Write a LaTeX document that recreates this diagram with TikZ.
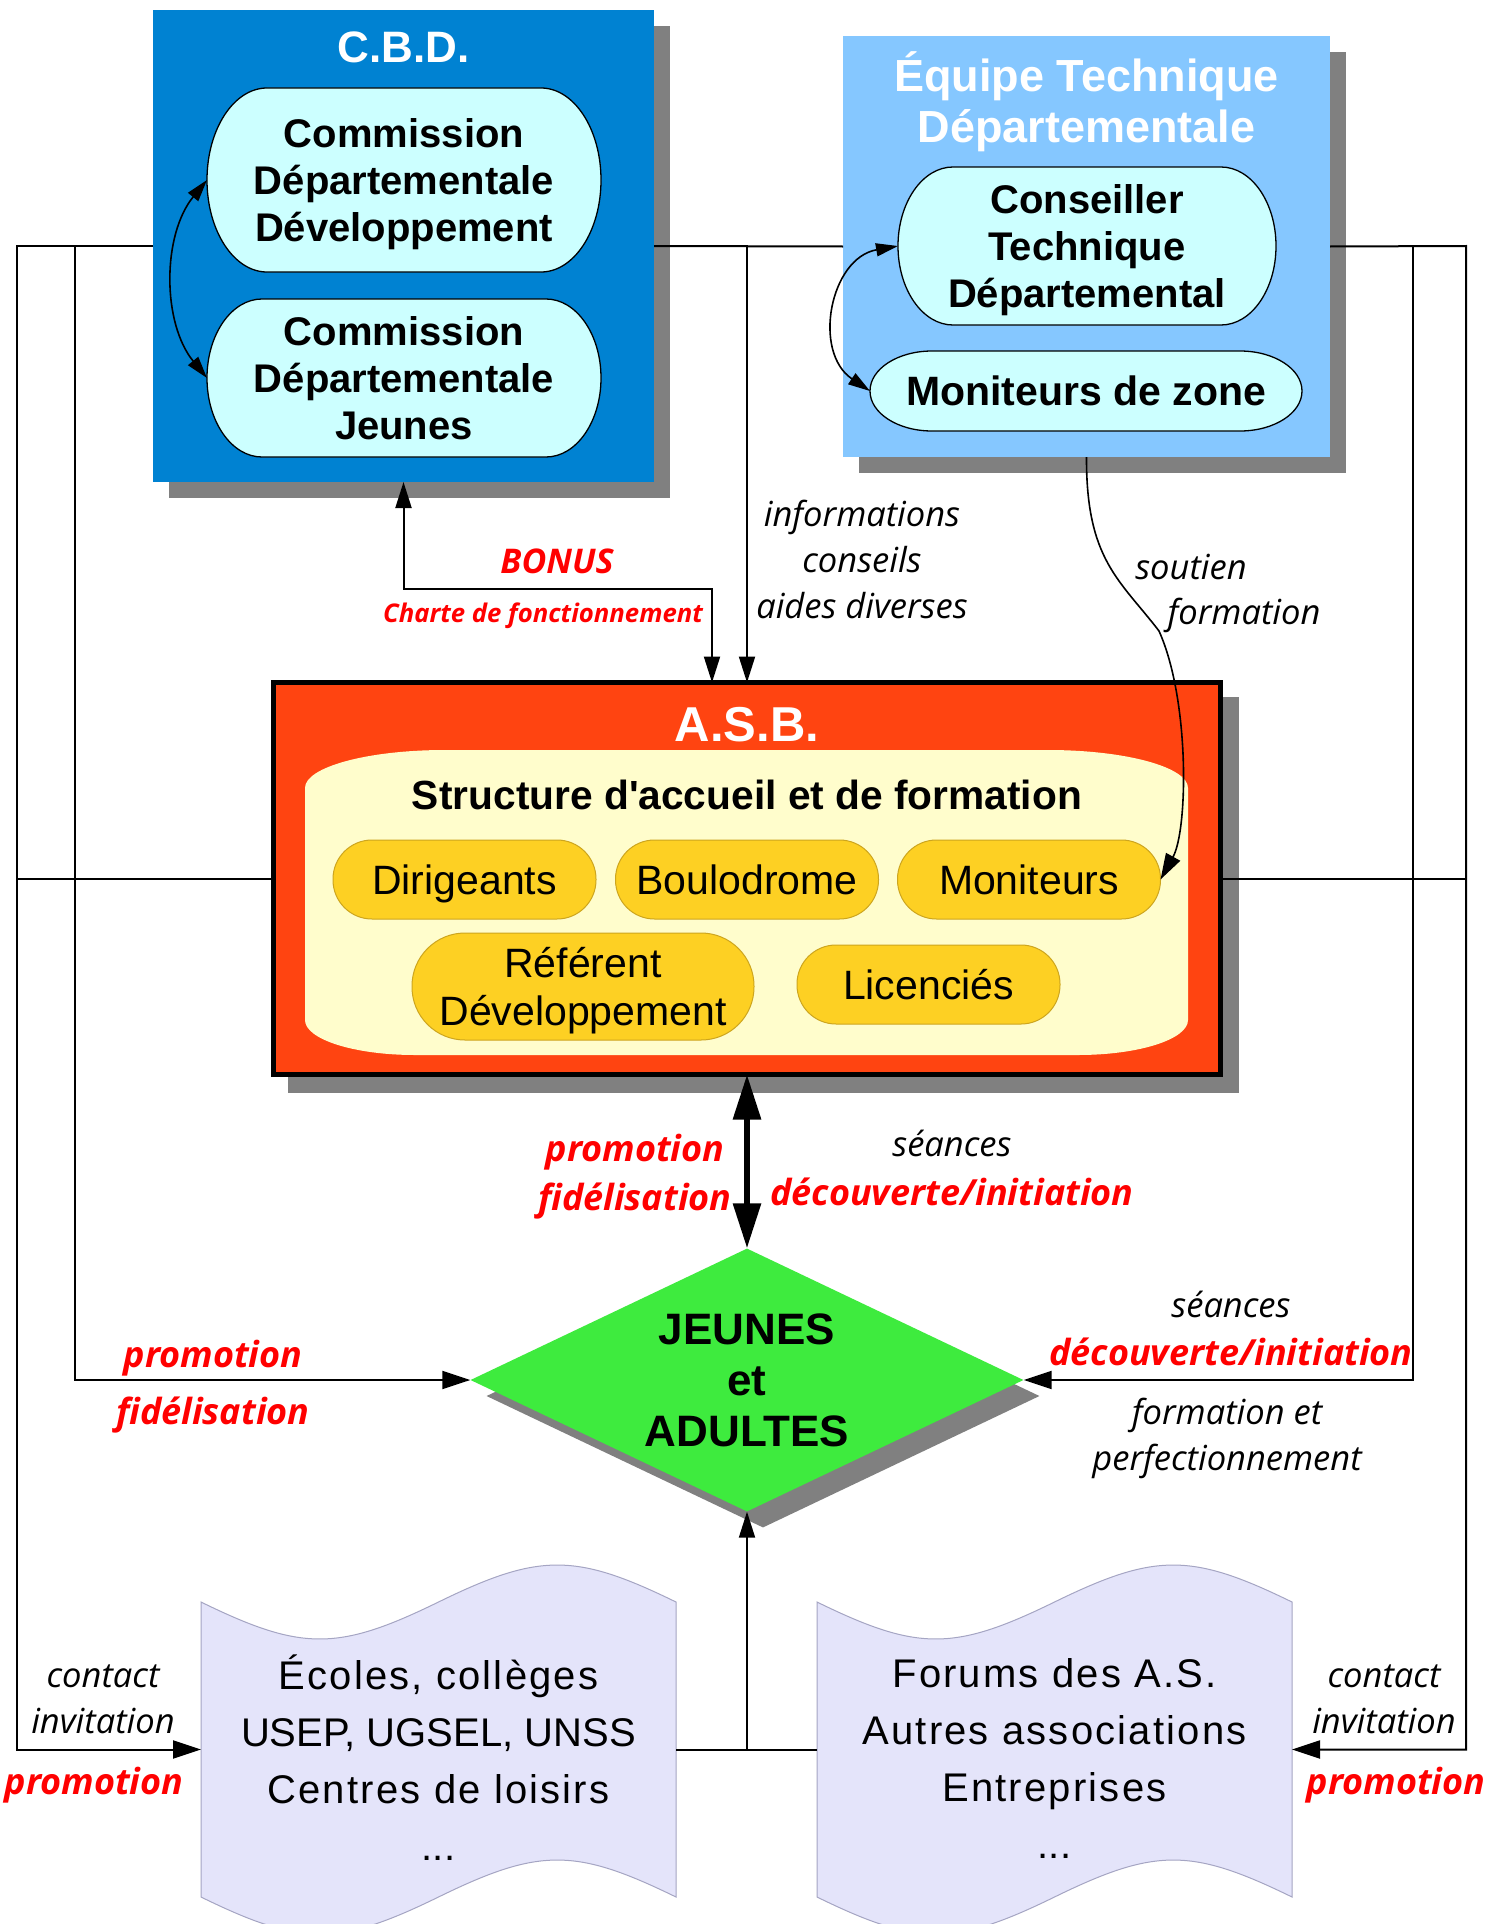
\documentclass[tikz,border=0pt]{standalone}
\usepackage{fontspec}
\setmainfont{Liberation Sans}
\newfontfamily\osans{Open Sans}
\newfontfamily\docfont[LetterSpace=5.5]{Liberation Sans}
\usetikzlibrary{arrows.meta,shapes.geometric}
\definecolor{cbdblue}{RGB}{0,130,210}
\definecolor{etdblue}{RGB}{133,199,255}
\definecolor{cyanf}{RGB}{204,255,255}
\definecolor{asbred}{RGB}{255,68,17}
\definecolor{lyellow}{RGB}{255,253,204}
\definecolor{gold}{RGB}{253,208,35}
\definecolor{golddark}{RGB}{205,165,30}
\definecolor{jgreen}{RGB}{62,235,62}
\definecolor{lav}{RGB}{228,228,250}
\definecolor{lavdark}{RGB}{165,165,195}
\definecolor{shadowgray}{RGB}{128,128,128}
\definecolor{lblred}{RGB}{255,0,0}
\newcommand\mycapsule[6]{\filldraw[capsule] (#1+#5,#2) -- (#3-#5,#2) arc[start angle=-90,end angle=90,x radius=#5,y radius=#6] -- (#1+#5,#4) arc[start angle=90,end angle=270,x radius=#5,y radius=#6] -- cycle;}
\tikzset{
  capsule/.style={fill=cyanf,draw=black,line width=1.3pt},
  boxn/.style={rectangle,inner sep=0pt,outer sep=0pt},
  titlef/.style={text=white,inner sep=0pt,align=center},
  ctext/.style={rectangle,inner sep=0pt,outer sep=0pt,align=center,text depth=0pt,font=\bfseries\fontsize{40}{47}\selectfont},
  pill/.style={rectangle,rounded corners=39pt,fill=gold,draw=golddark,line width=1pt,inner sep=0pt,outer sep=0pt,minimum width=263pt,minimum height=79pt,align=center,text depth=0pt,font=\fontsize{41}{48}\selectfont},
  doc/.style={fill=lav,draw=lavdark,line width=1pt},
  doctext/.style={inner sep=0pt,align=center,font=\docfont\fontsize{40}{57}\selectfont},
  con/.style={draw=black,line width=2pt},
  tipA/.style={-{Triangle[length=26pt,width=16pt]}},
  tipB/.style={-{Triangle[length=28pt,width=18pt]}},
  dblA/.style={{Triangle[length=26pt,width=16pt]}-{Triangle[length=26pt,width=16pt]}},
  dblS/.style={{Triangle[length=22pt,width=13pt]}-{Triangle[length=22pt,width=13pt]}},
  dblBig/.style={{Triangle[length=45pt,width=27pt]}-{Triangle[length=45pt,width=27pt]}},
  lblk/.style={font=\osans\itshape\fontsize{34.5}{46}\selectfont,inner sep=0pt,align=center},
  lred/.style={font=\osans\bfseries\itshape\fontsize{36}{49}\selectfont,text=lblred,inner sep=0pt,align=center},
}
\begin{document}
\begin{tikzpicture}[x=1pt,y=-1pt]
\useasboundingbox (0,0) rectangle (1504,1924);
\fill[white] (0,0) rectangle (1504,1924);
\clip (0,0) rectangle (1504,1924);

% shadows
\fill[shadowgray] (169,26) rectangle (670,498);
\fill[shadowgray] (859,52) rectangle (1346,473);
\fill[shadowgray] (288,697) rectangle (1239,1093);

% main boxes
\node[boxn,fill=cbdblue,minimum width=501pt,minimum height=472pt] (cbd) at (403.5,246) {};
\node[boxn,fill=etdblue,minimum width=487pt,minimum height=421pt] (etd) at (1086.5,246.5) {};
\node[boxn,fill=asbred,draw=black,line width=5pt,minimum width=947pt,minimum height=392pt] (asb) at (747,878.5) {};

% titles
\node[titlef,font=\bfseries\fontsize{44}{51}\selectfont] (cbdtitle) at (403.5,47) {C.B.D.};
\node[titlef,font=\bfseries\fontsize{45}{51}\selectfont] (etdtitle) at (1086.5,102) {Équipe Technique\\Départementale};
\node[titlef,font=\bfseries\fontsize{49}{51}\selectfont] (asbtitle) at (747,724.5) {A.S.B.};

% C.B.D. commissions
\mycapsule{207}{88}{601}{272}{60}{92}
\node[ctext,minimum width=394pt,minimum height=184pt] (cdd) at (404,180) {Commission\\Départementale\\Développement};
\mycapsule{207}{299}{601}{457}{55}{79}
\node[ctext,minimum width=394pt,minimum height=158pt] (cdj) at (404,378) {Commission\\Départementale\\Jeunes};

% E.T.D.
\mycapsule{898}{167}{1276}{325}{55}{79}
\node[ctext,minimum width=378pt,minimum height=158pt] (ctd) at (1087,246) {Conseiller\\Technique\\Départemental};
\mycapsule{870}{351}{1302}{431}{62}{40}
\node[ctext,minimum width=432pt,minimum height=80pt,font=\bfseries\fontsize{41}{47}\selectfont] (mdz) at (1086,391) {Moniteurs de zone};

% A.S.B. inner structure
\fill[lyellow] (445,750) -- (1048,750) arc[start angle=-90,end angle=0,x radius=140,y radius=38] -- (1188,1020) arc[start angle=0,end angle=90,x radius=110,y radius=35] -- (415,1055) arc[start angle=90,end angle=180,x radius=110,y radius=35] -- (305,788) arc[start angle=180,end angle=270,x radius=140,y radius=38] -- cycle;
\node[inner sep=0pt,font=\bfseries\fontsize{40.7}{47}\selectfont] (structure) at (747,795) {Structure d\textquotesingle accueil et de formation};
\node[pill] (dirigeants) at (464.5,879.5) {Dirigeants};
\node[pill] (boulodrome) at (747,879.5) {Boulodrome};
\node[pill] (moniteurs) at (1029,879.5) {Moniteurs};
\node[pill,minimum width=342pt,minimum height=107pt,rounded corners=53pt] (referent) at (583,986.5) {Référent\\Développement};
\node[pill] (licencies) at (928.5,984.5) {Licenciés};

% diamond
\node[diamond,aspect=2.1,fill=shadowgray,inner sep=0pt,minimum width=553pt,minimum height=263pt] (jshadow) at (763,1396) {};
\node[diamond,aspect=2.1,fill=jgreen,inner sep=0pt,minimum width=553pt,minimum height=263pt,align=center,font=\bfseries\fontsize{44}{51}\selectfont] (jeunes) at (747,1380) {JEUNES\\et\\ADULTES};

% documents
\filldraw[doc] (201,1602) .. controls (301.8,1651.3) and (337.7,1651.3) .. (438.5,1602) .. controls (539.3,1552.7) and (575.2,1552.7) .. (676,1602) -- (676,1897) .. controls (575.2,1847.7) and (539.3,1847.7) .. (438.5,1897) .. controls (337.7,1946.3) and (301.8,1946.3) .. (201,1897) -- cycle;
\filldraw[doc] (817,1602) .. controls (917.8,1651.3) and (953.7,1651.3) .. (1054.5,1602) .. controls (1155.3,1552.7) and (1191.2,1552.7) .. (1292,1602) -- (1292,1897) .. controls (1191.2,1847.7) and (1155.3,1847.7) .. (1054.5,1897) .. controls (953.7,1946.3) and (917.8,1946.3) .. (817,1897) -- cycle;
\node[boxn,minimum width=475pt,minimum height=295pt] (ecoles) at (438.5,1749.5) {};
\node[boxn,minimum width=475pt,minimum height=295pt] (forums) at (1054.5,1749.5) {};
\node[doctext] (ecolestxt) at (438.5,1758) {Écoles, collèges\\{\rmfamily USEP, UGSEL, UNSS}\\Centres de loisirs\\{\rmfamily ...}};
\node[doctext] (forumstxt) at (1054.5,1758) {Forums des A.S.\\Autres associations\\Entreprises\\{\rmfamily ...}};

% connectors
\coordinate (lo) at (17,246);
\coordinate (li) at (75,246);
\coordinate (ro) at (1466,246);
\coordinate (ri) at (1413,246);
\coordinate (bj) at (712,589);
\draw[con,tipB] (cbd.west) -- (lo) -- (lo |- ecoles.west) -- (ecoles.west);
\draw[con,tipB] (li) -- (li |- jeunes.west) -- (jeunes.west);
\draw[con] (lo |- asb.west) -- (asb.west);
\draw[con,tipB] (etd.east) -- (ro) -- (ro |- forums.east) -- (forums.east);
\draw[con,tipB] (ri) -- (ri |- jeunes.east) -- (jeunes.east);
\draw[con] (asb.east) -- (ro |- asb.east);
\draw[con] (cbd.east) -- (etd.west);
\draw[con,tipA] (cbd.east -| asb.north) -- (asb.north);
\draw[con,dblA] (cbd.south) |- (bj) -- (bj |- asb.north);
\draw[draw=black,line width=1.6pt,tipA] (etd.south) .. controls (1086,560) and (1120,580) .. (1159,631) .. controls (1190,700) and (1188,830) .. (moniteurs.east);
\draw[draw=black,line width=6pt,dblBig] (asb.south) -- (jeunes.north);
\draw[con] (ecoles.east) -- (forums.west);
\draw[con,tipA] (ecoles.east -| jeunes.south) -- (jeunes.south);
\draw[draw=black,line width=1.6pt,dblS] (cdd.west) .. controls (162,235) and (162,323) .. (cdj.west);
\draw[draw=black,line width=1.6pt,dblS] (ctd.west) .. controls (830,258) and (812,352) .. (mdz.west);

% labels
\node[lblk] (info) at (862,559) {informations\\conseils\\aides diverses};
\node[lred,font=\osans\bfseries\itshape\fontsize{34}{40}\selectfont] (bonus) at (557,561) {BONUS};
\node[lred,font=\osans\bfseries\itshape\fontsize{25.7}{30}\selectfont] (charte) at (543,616) {Charte de fonctionnement};
\node[lblk] (soutien) at (1191,567) {soutien};
\node[lblk] (formation) at (1244,615) {formation};
\node[lred] (promomid) at (635,1177) {promotion\\fidélisation};
\node[lblk] (seancesmid) at (952,1143) {séances};
\node[lred] (decmid) at (952,1192) {découverte/initiation};
\node[lblk] (seancesr) at (1231,1304) {séances};
\node[lred] (decr) at (1231,1352) {découverte/initiation};
\node[lblk] (formr) at (1227,1438.5) {formation et\\perfectionnement};
\node[lred] (promol) at (213,1358) {promotion};
\node[lred] (fidel) at (213,1415) {fidélisation};
\node[lblk] (contactl) at (103,1699.5) {contact\\invitation};
\node[lred] (promobl) at (94,1785) {promotion};
\node[lblk] (contactr) at (1384,1699.5) {contact\\invitation};
\node[lred] (promobr) at (1396,1785) {promotion};
\end{tikzpicture}
\end{document}
